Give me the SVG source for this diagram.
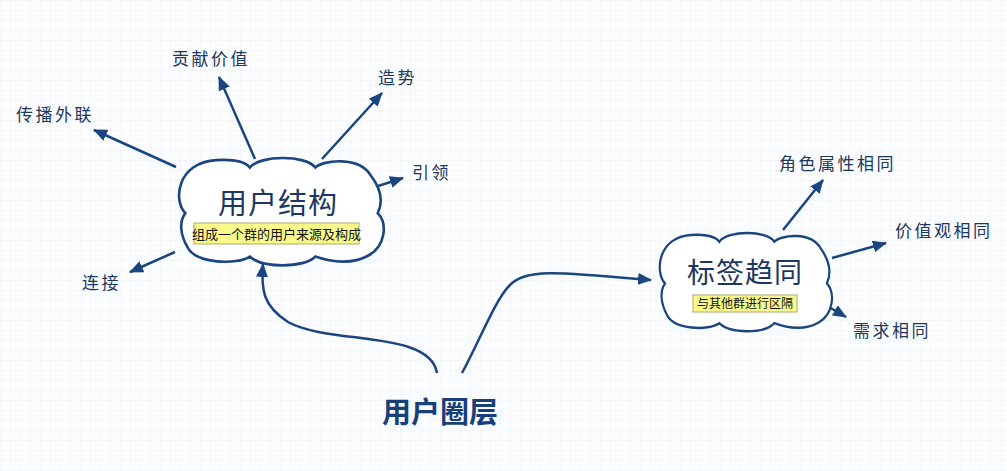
<svg xmlns="http://www.w3.org/2000/svg" width="1007" height="471" viewBox="0 0 1007 471">
<defs>
<pattern id="grid" width="10" height="10" patternUnits="userSpaceOnUse">
<path d="M10,0 L0,0 L0,10" fill="none" stroke="#edf1f6" stroke-width="1"/>
</pattern>
<marker id="ah" viewBox="0 0 14 12" refX="13" refY="6" markerWidth="14" markerHeight="12" markerUnits="userSpaceOnUse" orient="auto">
<path d="M0,0 L14,6 L0,12 Z" fill="#1b4580"/>
</marker>
<path id="cloudShape" d="M8,52 C-4,40 0,4 38,2 C55,1 66,4 70,9 C80,-3 124,-3 133,9 C140,2 175,-2 186,16 C197,30 198,42 193,52 C203,62 200,84 184,92 C170,100 150,99 133,93 C122,104 82,104 70,93 C58,101 18,100 10,84 C3,72 2,60 8,52 Z"/>
</defs>
<style>
.cloud{fill:#ffffff;stroke:#1b4580;stroke-width:2.5;vector-effect:non-scaling-stroke}
.conn{fill:none;stroke:#1b4580;stroke-width:2.5;marker-end:url(#ah)}
.lbl{font-family:"Noto Sans CJK SC","Noto Sans",sans-serif;font-size:17px;fill:#1c3760;letter-spacing:2.5px}
.title{font-family:"Noto Sans CJK SC","Noto Sans",sans-serif;fill:#1c3760;text-anchor:middle}
.tag{fill:#fbf98a;stroke:#b0a870;stroke-width:1}
.tagt{font-family:"Noto Sans CJK SC","Noto Sans",sans-serif;fill:#111111;text-anchor:middle}
</style>
<rect width="1007" height="471" fill="#fbfcfd"/>
<rect width="1007" height="471" fill="url(#grid)"/>

<g id="connectors">
<line class="conn" x1="255" y1="159" x2="219" y2="77"/>
<line class="conn" x1="322" y1="159" x2="382" y2="93"/>
<line class="conn" x1="176" y1="167" x2="94" y2="130"/>
<line class="conn" x1="175" y1="252" x2="130" y2="272"/>
<line class="conn" x1="378" y1="186" x2="403" y2="178"/>
<line class="conn" x1="783" y1="230" x2="823" y2="180"/>
<line class="conn" x1="832" y1="258" x2="886" y2="243"/>
<line class="conn" x1="829" y1="307" x2="846" y2="317"/>
<path class="conn" d="M437,373 C430,330 330,345 288,322 C263,306 261,290 263,264"/>
<path class="conn" d="M462,373 C480,340 495,300 510,285 C525,268 560,272 651,280"/>
</g>

<g id="node-yonghujiegou">
<use href="#cloudShape" class="cloud" transform="translate(177,158) scale(1.04,1.06)"/>
<text class="title" x="278" y="214" font-size="29" letter-spacing="1">用户结构</text>
<rect class="tag" x="194" y="223" width="165" height="21"/>
<text class="tagt" x="276.5" y="239" font-size="13">组成一个群的用户来源及构成</text>
</g>

<g id="node-biaoqianqutong">
<use href="#cloudShape" class="cloud" transform="translate(658,233) scale(0.875,0.97)"/>
<text class="title" x="745" y="283" font-size="28" letter-spacing="1">标签趋同</text>
<rect class="tag" x="693" y="295" width="104" height="17"/>
<text class="tagt" x="745" y="308" font-size="12">与其他群进行区隔</text>
</g>

<g id="node-root">
<text class="title" x="440" y="423" font-size="29" font-weight="bold" style="fill:#173f7a">用户圈层</text>
</g>

<g id="node-gongxian"><text class="lbl" x="172" y="65">贡献价值</text></g>
<g id="node-zaoshi"><text class="lbl" x="378" y="84">造势</text></g>
<g id="node-chuanbo"><text class="lbl" x="16" y="121">传播外联</text></g>
<g id="node-yinling"><text class="lbl" x="412" y="179">引领</text></g>
<g id="node-lianjie"><text class="lbl" x="82" y="289">连接</text></g>
<g id="node-jiaose"><text class="lbl" x="779" y="170">角色属性相同</text></g>
<g id="node-jiazhiguan"><text class="lbl" x="895" y="237">价值观相同</text></g>
<g id="node-xuqiu"><text class="lbl" x="853" y="337">需求相同</text></g>
</svg>
